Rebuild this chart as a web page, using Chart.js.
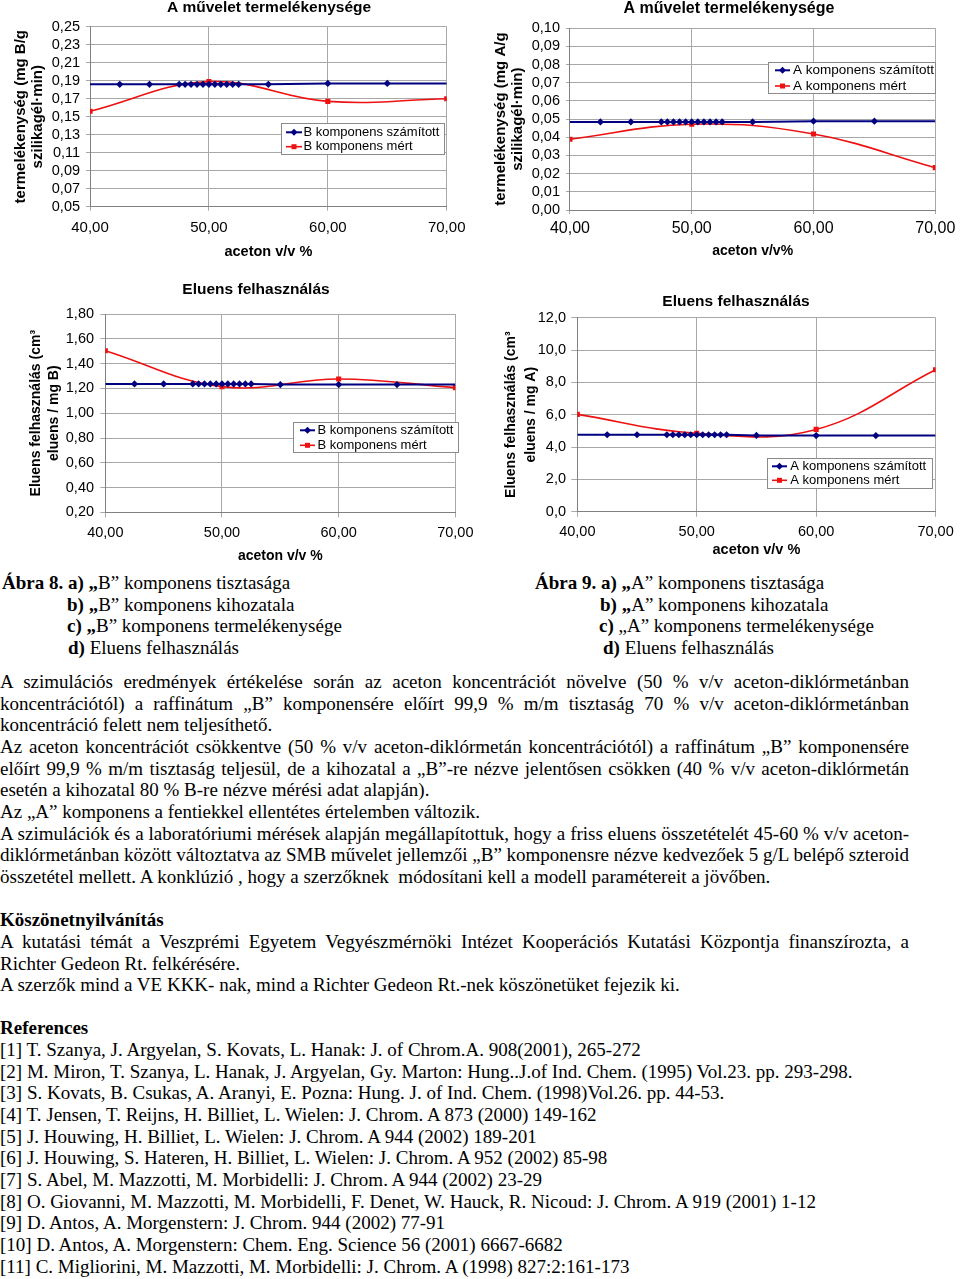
<!DOCTYPE html>
<html>
<head>
<meta charset="utf-8">
<script src="https://cdn.jsdelivr.net/npm/chart.js@4.4.1/dist/chart.umd.min.js"></script>
<style>
html, body { margin: 0; padding: 0; background: #fff; }
body {
  width: 960px; height: 1279px; position: relative; overflow: hidden;
  font-family: "Liberation Serif", "Times New Roman", serif; font-size: 19px; color: #000;
}
canvas { position: absolute; }
.cap { position: absolute; line-height: 21.65px; white-space: nowrap; }
.txt { position: absolute; left: 0; top: 671px; width: 909px; line-height: 21.65px; }
.j { text-align: justify; text-align-last: justify; }
.gap { height: 21.65px; }
</style>
</head>
<body>
<canvas id="c1" width="480" height="264" style="left:0;top:0"></canvas>
<canvas id="c2" width="480" height="262" style="left:480px;top:0"></canvas>
<canvas id="c3" width="480" height="295" style="left:0;top:275px"></canvas>
<canvas id="c4" width="480" height="295" style="left:480px;top:275px"></canvas>

<div class="cap" style="left:2px;top:572px">
  <div><b>Ábra 8. a) „</b>B” komponens tisztasága</div>
  <div style="padding-left:65px"><b>b) „</b>B” komponens kihozatala</div>
  <div style="padding-left:65px"><b>c) „</b>B” komponens termelékenysége</div>
  <div style="padding-left:66px"><b>d)</b> Eluens felhasználás</div>
</div>
<div class="cap" style="left:535px;top:572px">
  <div><b>Ábra 9. a) „</b>A” komponens tisztasága</div>
  <div style="padding-left:65px"><b>b) „</b>A” komponens kihozatala</div>
  <div style="padding-left:64px"><b>c)</b> „A” komponens termelékenysége</div>
  <div style="padding-left:68px"><b>d)</b> Eluens felhasználás</div>
</div>

<div class="txt">
  <div class="j">A szimulációs eredmények értékelése során az aceton koncentrációt növelve (50 % v/v aceton-diklórmetánban</div>
  <div class="j">koncentrációtól) a raffinátum „B” komponensére előírt 99,9 % m/m tisztaság 70 % v/v aceton-diklórmetánban</div>
  <div>koncentráció felett nem teljesíthető.</div>
  <div class="j">Az aceton koncentrációt csökkentve (50 % v/v aceton-diklórmetán koncentrációtól) a raffinátum „B” komponensére</div>
  <div class="j">előírt 99,9 % m/m tisztaság teljesül, de a kihozatal a „B”-re nézve jelentősen csökken (40 % v/v aceton-diklórmetán</div>
  <div>esetén a kihozatal 80 % B-re nézve mérési adat alapján).</div>
  <div>Az „A” komponens a fentiekkel ellentétes értelemben változik.</div>
  <div class="j">A szimulációk és a laboratóriumi mérések alapján megállapítottuk, hogy a friss eluens összetételét 45-60 % v/v aceton-</div>
  <div class="j">diklórmetánban között változtatva az SMB művelet jellemzői „B” komponensre nézve kedvezőek 5 g/L belépő szteroid</div>
  <div>összetétel mellett. A konklúzió , hogy a szerzőknek&nbsp; módosítani kell a modell paramétereit a jövőben.</div>
  <div class="gap"></div>
  <div><b>Köszönetnyilvánítás</b></div>
  <div class="j">A kutatási témát a Veszprémi Egyetem Vegyészmérnöki Intézet Kooperációs Kutatási Központja finanszírozta, a</div>
  <div>Richter Gedeon Rt. felkérésére.</div>
  <div>A szerzők mind a VE KKK- nak, mind a Richter Gedeon Rt.-nek köszönetüket fejezik ki.</div>
  <div class="gap"></div>
  <div><b>References</b></div>
  <div>[1] T. Szanya, J. Argyelan, S. Kovats, L. Hanak: J. of Chrom.A. 908(2001), 265-272</div>
  <div>[2] M. Miron, T. Szanya, L. Hanak, J. Argyelan, Gy. Marton: Hung..J.of Ind. Chem. (1995) Vol.23. pp. 293-298.</div>
  <div>[3] S. Kovats, B. Csukas, A. Aranyi, E. Pozna: Hung. J. of Ind. Chem. (1998)Vol.26. pp. 44-53.</div>
  <div>[4] T. Jensen, T. Reijns, H. Billiet, L. Wielen: J. Chrom. A 873 (2000) 149-162</div>
  <div>[5] J. Houwing, H. Billiet, L. Wielen: J. Chrom. A 944 (2002) 189-201</div>
  <div>[6] J. Houwing, S. Hateren, H. Billiet, L. Wielen: J. Chrom. A 952 (2002) 85-98</div>
  <div>[7] S. Abel, M. Mazzotti, M. Morbidelli: J. Chrom. A 944 (2002) 23-29</div>
  <div>[8] O. Giovanni, M. Mazzotti, M. Morbidelli, F. Denet, W. Hauck, R. Nicoud: J. Chrom. A 919 (2001) 1-12</div>
  <div>[9] D. Antos, A. Morgenstern: J. Chrom. 944 (2002) 77-91</div>
  <div>[10] D. Antos, A. Morgenstern: Chem. Eng. Science 56 (2001) 6667-6682</div>
  <div>[11] C. Migliorini, M. Mazzotti, M. Morbidelli: J. Chrom. A (1998) 827:2:161-173</div>
</div>

<script>
// aceton v/v % values (x axis)
const acetonSzamitott = [40, 42.5, 45, 47.5, 48, 48.5, 49, 49.5, 50, 50.5, 51, 51.5, 52, 52.5, 55, 60, 65, 70];
const acetonMert = [40, 50, 60, 70];
const xTicks = [40, 50, 60, 70];

// B komponens termelekenyseg
const prodBSzamitott = [0.186, 0.186, 0.186, 0.186, 0.186, 0.186, 0.186, 0.186, 0.186, 0.186, 0.186, 0.186, 0.186, 0.186, 0.186, 0.187, 0.187, 0.187];
const prodBMert = [0.156, 0.189, 0.167, 0.170];
const prodBTicks = [0.05, 0.07, 0.09, 0.11, 0.13, 0.15, 0.17, 0.19, 0.21, 0.23, 0.25];

// A komponens termelekenyseg
const prodASzamitott = [0.0485, 0.0485, 0.0485, 0.0485, 0.0485, 0.0485, 0.0485, 0.0485, 0.0485, 0.0485, 0.0485, 0.0485, 0.0485, 0.0485, 0.0485, 0.0489, 0.0489, 0.0489];
const prodAMert = [0.0389, 0.0472, 0.0418, 0.0233];
const prodATicks = [0, 0.01, 0.02, 0.03, 0.04, 0.05, 0.06, 0.07, 0.08, 0.09, 0.10];

// eluens felhasznalas, B
const eluBSzamitott = [1.236, 1.236, 1.236, 1.236, 1.236, 1.236, 1.236, 1.236, 1.236, 1.236, 1.236, 1.236, 1.236, 1.236, 1.231, 1.231, 1.231, 1.231];
const eluBMert = [1.504, 1.214, 1.276, 1.206];
const eluBTicks = [0.2, 0.4, 0.6, 0.8, 1.0, 1.2, 1.4, 1.6, 1.8];

// eluens felhasznalas, A
const eluASzamitott = [4.76, 4.76, 4.76, 4.76, 4.76, 4.76, 4.76, 4.76, 4.76, 4.76, 4.76, 4.76, 4.76, 4.76, 4.72, 4.71, 4.71, 4.71];
const eluAMert = [6.02, 4.85, 5.09, 8.78];
const eluATicks = [0, 2, 4, 6, 8, 10, 12];

const SANS = '"Liberation Sans", Arial, sans-serif';
const NAVY = '#000080';
const RED = '#ee1111';
const GRID = '#a8a8a8';

// draws the chart title and the Excel-style legend box inside the plot
const excelParts = {
  id: 'excelParts',
  afterDatasetsDraw(chart, args, o) {
    const ctx = chart.ctx;
    ctx.save();
    const L = o.legend;
    ctx.fillStyle = '#fff';
    ctx.fillRect(L.x, L.y, L.w, L.h);
    ctx.strokeStyle = '#8a8a8a';
    ctx.lineWidth = 1;
    ctx.strokeRect(L.x + 0.5, L.y + 0.5, L.w, L.h);
    ctx.font = L.font + 'px ' + SANS;
    ctx.textBaseline = 'middle';
    ctx.textAlign = 'left';
    chart.data.datasets.forEach((ds, i) => {
      const y = L.y + L.row0 + i * L.rowGap;
      ctx.strokeStyle = ds.borderColor;
      ctx.lineWidth = ds.borderWidth;
      ctx.beginPath();
      ctx.moveTo(L.x + L.line[0], y);
      ctx.lineTo(L.x + L.line[1], y);
      ctx.stroke();
      const mx = L.x + (L.line[0] + L.line[1]) / 2;
      ctx.fillStyle = ds.borderColor;
      ctx.beginPath();
      if (ds.pointStyle === 'rectRot') {
        ctx.moveTo(mx, y - 3.5); ctx.lineTo(mx + 3.5, y); ctx.lineTo(mx, y + 3.5); ctx.lineTo(mx - 3.5, y);
      } else {
        ctx.rect(mx - 2.5, y - 2.5, 5, 5);
      }
      ctx.fill();
      ctx.fillStyle = '#000';
      ctx.fillText(ds.label, L.x + L.text, y);
    });
    ctx.restore();
  },
  afterDraw(chart, args, o) {
    const ctx = chart.ctx;
    ctx.save();
    ctx.font = 'bold ' + o.titleSize + 'px ' + SANS;
    ctx.fillStyle = '#000';
    ctx.textAlign = 'center';
    ctx.textBaseline = 'middle';
    ctx.fillText(o.title, o.titleX, o.titleY);
    ctx.restore();
  }
};

function makeChart(id, cfg) {
  const pts = (xs, ys) => xs.map((x, i) => ({ x: x, y: ys[i] }));
  const lastCalc = acetonSzamitott.length - 1;
  return new Chart(document.getElementById(id), {
    type: 'line',
    data: {
      datasets: [
        {
          label: cfg.names[0],
          data: pts(acetonSzamitott, cfg.calc),
          borderColor: NAVY, backgroundColor: NAVY, borderWidth: 2,
          pointStyle: 'rectRot', pointBorderWidth: 0,
          pointRadius: c => (c.dataIndex === 0 || c.dataIndex === lastCalc) ? 0 : 3.6,
          tension: 0
        },
        {
          label: cfg.names[1],
          data: pts(acetonMert, cfg.meas),
          borderColor: RED, backgroundColor: RED, borderWidth: 1.6,
          pointStyle: 'rect', pointBorderWidth: 0, pointRadius: 3.6,
          tension: 0.4
        }
      ]
    },
    options: {
      responsive: false,
      animation: false,
      devicePixelRatio: 1,
      layout: { padding: cfg.pad },
      plugins: {
        legend: { display: false },
        tooltip: { enabled: false },
        title: { display: false },
        excelParts: cfg.parts
      },
      scales: {
        x: {
          type: 'linear', min: 40, max: 70,
          afterBuildTicks: s => { s.ticks = xTicks.map(v => ({ value: v })); },
          ticks: {
            color: '#000', padding: cfg.x.tp, maxRotation: 0, autoSkip: false,
            font: { family: SANS, size: cfg.x.tickSize },
            callback: v => v.toFixed(2).replace('.', ',')
          },
          grid: { color: GRID, tickColor: GRID, tickLength: cfg.x.tl },
          border: { color: '#808080' },
          title: {
            display: true, text: cfg.x.title, color: '#000',
            font: { family: SANS, size: cfg.x.titleSize, weight: 'bold' },
            padding: { top: cfg.x.pt, bottom: cfg.x.pb }
          }
        },
        y: {
          type: 'linear', min: cfg.yTicks[0], max: cfg.yTicks[cfg.yTicks.length - 1],
          afterBuildTicks: s => { s.ticks = cfg.yTicks.map(v => ({ value: v })); },
          ticks: {
            color: '#000', padding: cfg.y.tp, autoSkip: false,
            font: { family: SANS, size: 14.5 },
            callback: v => v.toFixed(cfg.y.dec).replace('.', ',')
          },
          grid: { color: GRID, tickColor: GRID, tickLength: cfg.y.tl },
          border: { color: '#808080' },
          title: {
            display: true, text: cfg.y.title, color: '#000',
            font: { family: SANS, size: cfg.y.titleSize, weight: 'bold', lineHeight: cfg.y.lh },
            padding: { top: cfg.y.pt, bottom: cfg.y.pb }
          }
        }
      }
    },
    plugins: [excelParts]
  });
}

makeChart('c1', {
  names: ['B komponens számított', 'B komponens mért'],
  calc: prodBSzamitott, meas: prodBMert, yTicks: prodBTicks,
  pad: { left: 8, top: 26.7, right: 33.3, bottom: 3.3 },
  x: { title: 'aceton v/v %', tickSize: 15, titleSize: 14.5, tl: 4, tp: 7.8, pt: -1, pb: 0 },
  y: { title: ['termelékenység (mg B/g', 'szilikagél·min)'], titleSize: 15, lh: '17px', dec: 2, tl: 4, tp: 6, pt: 4.5, pb: -0.7 },
  parts: {
    title: 'A művelet termelékenysége', titleSize: 15.5, titleX: 269, titleY: 8,
    legend: { x: 281, y: 123, w: 163, h: 31, row0: 9.3, rowGap: 14.4, line: [5, 21], text: 22.5, font: 13 }
  }
});

makeChart('c2', {
  names: ['A komponens számított', 'A komponens mért'],
  calc: prodASzamitott, meas: prodAMert, yTicks: prodATicks,
  pad: { left: 8, top: 28.3, right: 19, bottom: 2.8 },
  x: { title: 'aceton v/v%', tickSize: 16, titleSize: 14, tl: 4, tp: 4.7, pt: -0.2, pb: 0 },
  y: { title: ['termelékenység (mg A/g', 'szilikagél·min)'], titleSize: 15, lh: '16.5px', dec: 2, tl: 4, tp: 6, pt: 4.75, pb: 0 },
  parts: {
    title: 'A művelet termelékenysége', titleSize: 16, titleX: 249, titleY: 9,
    legend: { x: 288, y: 62, w: 167, h: 31, row0: 8.3, rowGap: 15.7, line: [7, 22], text: 25, font: 13.5 }
  }
});

makeChart('c3', {
  names: ['B komponens számított', 'B komponens mért'],
  calc: eluBSzamitott, meas: eluBMert, yTicks: eluBTicks,
  pad: { left: 20, top: 39, right: 20.7, bottom: 5.4 },
  x: { title: 'aceton v/v %', tickSize: 14.5, titleSize: 14, tl: 5, tp: 6.5, pt: 0, pb: 0 },
  y: { title: ['Eluens felhasználás (cm³', 'eluens / mg B)'], titleSize: 14, lh: '18px', dec: 2, tl: 5, tp: 6.3, pt: 7, pb: -3.5 },
  parts: {
    title: 'Eluens felhasználás', titleSize: 15.5, titleX: 256, titleY: 15,
    legend: { x: 293, y: 147, w: 165, h: 30, row0: 8.3, rowGap: 15, line: [7, 22], text: 24.5, font: 13 }
  }
});

makeChart('c4', {
  names: ['A komponens számított', 'A komponens mért'],
  calc: eluASzamitott, meas: eluAMert, yTicks: eluATicks,
  pad: { left: 15, top: 42.7, right: 24, bottom: 11.3 },
  x: { title: 'aceton v/v %', tickSize: 14.5, titleSize: 14.5, tl: 5, tp: 6.3, pt: -5.4, pb: 0 },
  y: { title: ['Eluens felhasználás (cm³', 'eluens / mg A)'], titleSize: 14, lh: '20px', dec: 1, tl: 6, tp: 5.3, pt: 6, pb: -8.5 },
  parts: {
    title: 'Eluens felhasználás', titleSize: 15.5, titleX: 256, titleY: 27,
    legend: { x: 287, y: 183, w: 165, h: 30, row0: 8.3, rowGap: 14, line: [5, 20], text: 23.3, font: 13 }
  }
});
</script>
</body>
</html>
